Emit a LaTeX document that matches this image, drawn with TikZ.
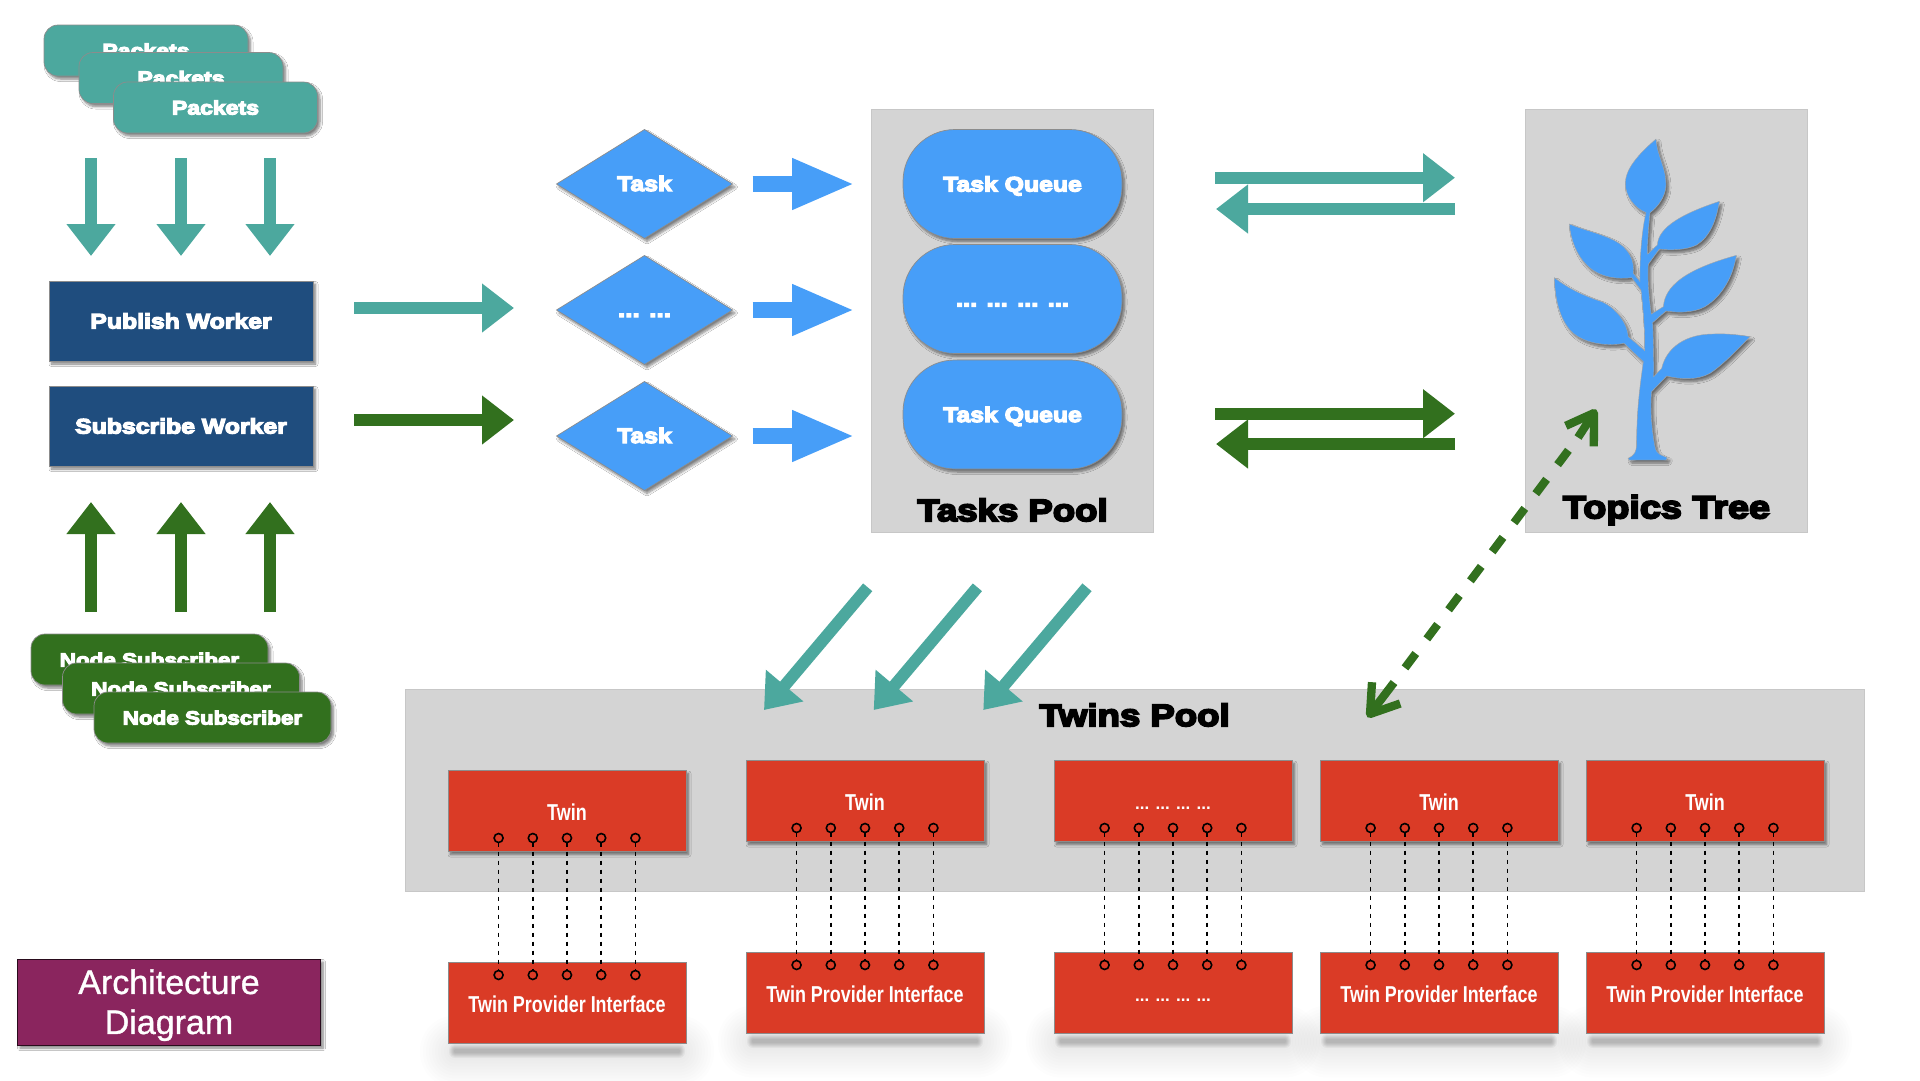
\documentclass[tikz,border=0pt]{standalone}
\usepackage{fontspec}
\setmainfont{Liberation Sans}
\newfontfamily\blkfont[UprightFont=* Bold,FakeBold=6,FakeStretch=1.18]{Liberation Sans}
\newfontfamily\narrowfont[UprightFont=* Bold,FakeStretch=0.78]{Liberation Sans}
\newfontfamily\archfont[FakeBold=1]{Liberation Sans}
\usetikzlibrary{shapes.geometric,shadows.blur,arrows.meta}
\definecolor{tealc}{RGB}{76,168,158}
\definecolor{greenc}{RGB}{50,112,30}
\definecolor{navyc}{RGB}{31,77,126}
\definecolor{bluec}{RGB}{71,158,248}
\definecolor{redc}{RGB}{218,59,38}
\definecolor{poolc}{RGB}{212,212,212}
\definecolor{purplec}{RGB}{138,37,94}
\newcommand{\blockarrow}[4]{\coordinate (#2s) at (#3); \coordinate (#2e) at (#4); \draw[#1] (#2s) -- (#2e);}
\newcommand{\blk}[1]{\blkfont\fontsize{#1}{#1}\selectfont}
\newcommand{\fourdots}{... ... ... ...}
\tikzset{
  softshadow/.style={blur shadow={shadow xshift=2.5pt,shadow yshift=-3pt,shadow blur radius=2.5pt,shadow blur steps=6,shadow opacity=50}},
  edgegray/.style={draw=black!45,line width=.7pt},
  pool/.style={draw=black!22,line width=1pt,fill=poolc},
  flatbox/.style={rectangle,inner sep=0pt,outer sep=0pt,edgegray,text=white},
  basebox/.style={flatbox,softshadow},
  packet/.style={basebox,fill=tealc,rounded corners=14pt,minimum width=204pt,minimum height=51pt,font=\blk{19.5},text height=14pt,text depth=0pt},
  nodesub/.style={basebox,fill=greenc,rounded corners=14pt,minimum width=237pt,minimum height=51pt,font=\blk{19},text height=14pt,text depth=0pt},
  worker/.style={basebox,fill=navyc,minimum width=264pt,minimum height=80pt,font=\blk{21},text height=15pt,text depth=0pt},
  taskd/.style={diamond,inner sep=0pt,outer sep=0pt,edgegray,softshadow,text=white,fill=bluec,minimum width=176pt,minimum height=109pt,font=\blk{21},text height=14pt,text depth=0pt},
  queue/.style={basebox,fill=bluec,rounded corners=52pt,minimum width=219pt,minimum height=109pt,font=\blk{21},text height=15pt,text depth=0pt},
  twinbox/.style={basebox,fill=redc,minimum width=238pt,minimum height=81pt},
  twinflat/.style={flatbox,fill=redc,minimum width=238pt,minimum height=81pt},
  twinlabel/.style={font=\narrowfont\fontsize{23}{23}\selectfont,text height=19pt,text depth=0pt},
  twindots/.style={font=\bfseries\fontsize{17}{17}\selectfont,text height=17pt,text depth=0pt},
  pin/.style={circle,draw=black,line width=1.6pt,minimum size=9pt,inner sep=0pt,outer sep=0pt},
  wire/.style={draw=black,line width=1.5pt,dash pattern=on 4.5pt off 4.5pt},
  teald/.style={draw=tealc,line width=12pt,-{Triangle[length=32pt,width=47pt]}},
  greend/.style={draw=greenc,line width=12pt,-{Triangle[length=32pt,width=47pt]}},
  blued/.style={draw=bluec,line width=16pt,-{Triangle[length=63pt,width=47pt]}},
  pooltitle/.style={font=\blk{31},text=black,inner sep=0pt},
  dashlink/.style={draw=greenc,line width=8.3pt,dash pattern=on 18pt off 18.3pt,dash phase=18pt},
  dashhead/.style={draw=greenc,line width=8.3pt,line join=round},
  floordark/.style={fill=black,opacity=.04},
  floorwide/.style={fill=black,opacity=.006},
}
\begin{document}
\begin{tikzpicture}[x=1pt,y=-1pt]
\useasboundingbox[fill=white] (0,0) rectangle (1920,1080);

% Packets
\node[packet] (p1) at (146,50.5) {Packets};
\node[packet] (p2) at (181,78) {Packets};
\node[packet] (p3) at (215.5,107.5) {Packets};
\blockarrow{teald}{da}{91,158}{91,256}
\blockarrow{teald}{db}{181,158}{181,256}
\blockarrow{teald}{dc}{270,158}{270,256}

% Workers
\node[worker] (pw) at (181,321) {Publish Worker};
\node[worker] (sw) at (181,426) {Subscribe Worker};
\blockarrow{teald}{ra}{354,308}{514,308}
\blockarrow{greend}{rb}{354,420}{514,420}
\blockarrow{greend}{ua}{91,612}{91,502}
\blockarrow{greend}{ub}{181,612}{181,502}
\blockarrow{greend}{uc}{270,612}{270,502}

% Node subscribers
\node[nodesub] (n1) at (149.5,659.5) {Node Subscriber};
\node[nodesub] (n2) at (181,688.5) {Node Subscriber};
\node[nodesub] (n3) at (212.5,717.5) {Node Subscriber};

% Tasks
\node[taskd] (t1) at (644.5,184) {Task};
\node[taskd] (t2) at (644.5,310) {\blk{22}... ...};
\node[taskd] (t3) at (644.5,436) {Task};
\blockarrow{blued}{ba}{752.5,184}{855,184}
\blockarrow{blued}{bb}{752.5,310}{855,310}
\blockarrow{blued}{bc}{752.5,436}{855,436}

% Tasks pool
\node[pool,rectangle,inner sep=0pt,outer sep=0pt,minimum width=282pt,minimum height=423pt] (tp) at (1012,320.5) {};
\node[queue] (q1) at (1012.5,184) {Task Queue};
\node[queue] (q2) at (1012.5,299) {\blk{21.5}\fourdots};
\node[queue] (q3) at (1012.5,414.5) {Task Queue};
\node[pooltitle] (tpl) at (1012.5,510) {Tasks Pool};

% Two-way arrows
\blockarrow{teald}{pa}{1215,177.7}{1455,177.7}
\blockarrow{teald}{pb}{1455,209}{1216,209}
\blockarrow{greend}{pc}{1215,413.7}{1455,413.7}
\blockarrow{greend}{pd}{1455,444}{1216,444}

% Topics tree
\node[pool,rectangle,inner sep=0pt,outer sep=0pt,minimum width=282pt,minimum height=423pt] (tt) at (1666,320.5) {};
\node[pooltitle,font=\blk{32}] (ttl) at (1666.5,510) {Topics Tree};
\begin{scope}[shift={(1540,130)},x=.33333pt,y=-.33333pt]
\fill[bluec,draw=black!35,line width=.4pt,softshadow]
 (348,27) .. controls (352,80) and (378,110) .. (378,165)
 .. controls (378,200) and (350,235) .. (330,248)
 .. controls (327,280) and (322,330) .. (323,372)
 -- (352,345)
 .. controls (355,290) and (430,250) .. (538,214)
 .. controls (530,270) and (510,320) .. (470,345)
 .. controls (440,360) and (390,362) .. (358,357)
 -- (325,403)
 .. controls (322,450) and (328,510) .. (334,552)
 -- (370,530)
 .. controls (375,470) and (430,420) .. (589,376)
 .. controls (580,440) and (545,500) .. (495,530)
 .. controls (460,550) and (410,548) .. (378,543)
 -- (338,578)
 .. controls (340,620) and (342,690) .. (341,740)
 -- (365,715)
 .. controls (380,650) and (440,612) .. (520,612)
 .. controls (560,610) and (600,615) .. (630,620)
 .. controls (600,650) and (555,700) .. (510,730)
 .. controls (470,752) and (420,748) .. (380,738)
 -- (335,785)
 .. controls (330,830) and (335,900) .. (345,950)
 .. controls (350,975) and (365,975) .. (382,983)
 -- (378,990) -- (268,990) -- (264,985)
 .. controls (285,975) and (288,965) .. (290,945)
 .. controls (290,860) and (295,800) .. (310,695)
 -- (252,640)
 .. controls (200,650) and (130,640) .. (95,605)
 .. controls (60,570) and (45,510) .. (43,443)
 .. controls (90,480) and (140,500) .. (185,515)
 .. controls (230,535) and (262,580) .. (265,620)
 -- (314,662)
 .. controls (315,610) and (310,540) .. (303,480)
 -- (275,443)
 .. controls (235,448) and (180,445) .. (140,405)
 .. controls (110,375) and (92,330) .. (88,282)
 .. controls (130,300) and (180,310) .. (220,330)
 .. controls (265,352) and (285,390) .. (280,430)
 -- (300,455)
 .. controls (298,400) and (305,300) .. (318,248)
 .. controls (285,235) and (256,200) .. (256,160)
 .. controls (256,110) and (310,60) .. (348,27) -- cycle;
\end{scope}

% Twins pool
\node[pool,rectangle,inner sep=0pt,outer sep=0pt,minimum width=1459pt,minimum height=202pt] (twp) at (1134.5,790.5) {};
\node[pooltitle] (twl) at (1134.5,715) {Twins Pool};

% Diagonal arrows
\blockarrow{teald}{xa}{867.7,587.3}{764,710}
\blockarrow{teald}{xb}{977.4,587.3}{873.7,710}
\blockarrow{teald}{xc}{1087,587.3}{983.3,710}

% Architecture label
\node[basebox,fill=purplec,draw=black!70!purplec,line width=1pt,minimum width=303pt,minimum height=86pt,align=center,font=\archfont\fontsize{34}{40}\selectfont] (arch) at (169,1002) {\rule{0pt}{31pt}Architecture\\Diagram};

% Twins
\foreach \n/\cx/\ty/\by/\ts/\tlab/\blab in {
  a/567/811/1002.5/twinlabel/Twin/Twin Provider Interface,
  b/865/801/992.5/twinlabel/Twin/Twin Provider Interface,
  c/1173/801/992.5/twindots/\fourdots/\fourdots,
  d/1439/801/992.5/twinlabel/Twin/Twin Provider Interface,
  e/1705/801/992.5/twinlabel/Twin/Twin Provider Interface}{
  % floor shadow under the lower box
  \foreach \r in {8,11,...,35}{
    \fill[floorwide,rounded corners=\r pt] (\cx-112-\r,\by+48-\r) rectangle (\cx+112+\r,\by+50+\r);
  }
  \foreach \r in {1,2,...,6}{
    \fill[floordark,rounded corners=\r pt] (\cx-112-\r,\by+47.5-\r) rectangle (\cx+112+\r,\by+49.5+\r);
  }
  \node[twinbox,\ts] (top\n) at (\cx,\ty) {\tlab};
  \node[twinflat,\ts] (bot\n) at (\cx,\by) {\blab};
  \foreach \k in {-2,...,2}{
    \node[pin] (tp\n\k) at (\cx+\k*34.2,\ty+27) {};
    \node[pin] (bp\n\k) at (\cx+\k*34.2,\by-27.5) {};
    \draw[wire] (tp\n\k) -- (bp\n\k);
  }
}

% Dashed double-headed link between pools
\coordinate (la) at (1394,682.5);
\coordinate (lb) at (1578,437.5);
\coordinate (lat) at (1370,714);
\coordinate (law) at (1372,682.2);
\coordinate (lav) at (1400.2,703.5);
\coordinate (lbt) at (1594,413);
\coordinate (lbw) at (1565.8,425.8);
\coordinate (lbv) at (1593.8,446.4);
\draw[dashlink] (la) -- (lb);
\draw[dashhead] (law) -- (lat) -- (lav);
\draw[dashhead] (lat) -- (la);
\draw[dashhead] (lbw) -- (lbt) -- (lbv);
\draw[dashhead] (lbt) -- (lb);
\end{tikzpicture}
\end{document}
